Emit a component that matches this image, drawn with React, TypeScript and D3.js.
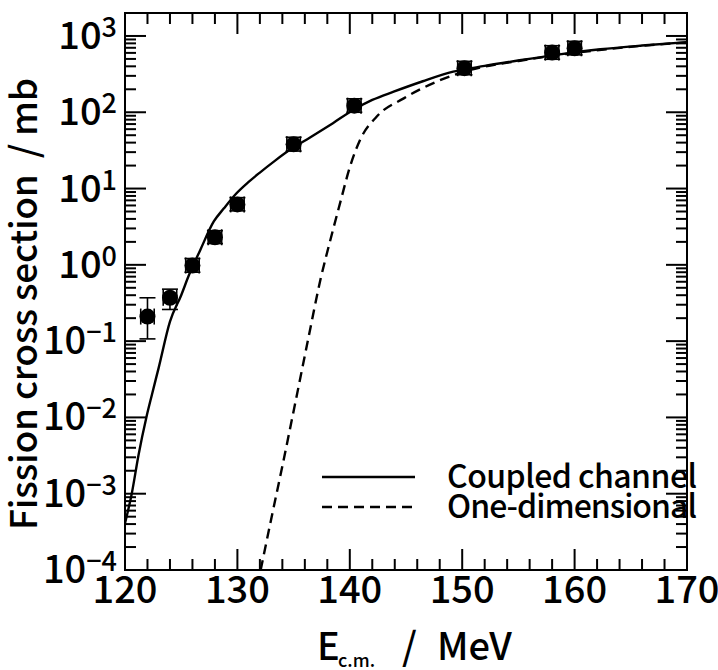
import React from "react";
import * as d3 from "d3";

// Experimental data (E_cm in MeV, sigma_fission in mb)
const expE = [122.0, 124.0, 126.0, 128.0, 130.0, 135.0, 140.4, 150.2, 158.0, 160.0];
const expSigma = [0.21, 0.37, 0.98, 2.3, 6.2, 38, 122, 378, 605, 690];
const expLo = [0.107, 0.26, 0.8, 1.9, 5.1, 31, 100, 310, 495, 565];
const expHi = [0.37, 0.48, 1.21, 2.8, 7.6, 47, 150, 465, 745, 850];
const expEErr = [0.6, 0.6, 0.6, 0.6, 0.6, 0.6, 0.6, 0.6, 0.6, 0.6];

// Coupled channel calculation
const ccE = [120, 120.6, 121.2, 121.9, 122.4, 123.0, 124.0, 125.0, 125.7, 126.7, 127.9, 128.8, 129.8, 131.0, 132.0, 133.3, 134.7, 136.5, 138.5, 140.3, 142.0, 143.9, 146.5, 149.2, 152.0, 155.1, 158.5, 162.3, 166.0, 170];
const ccSigma = [4.1e-4, 1.0e-3, 3.2e-3, 1.0e-2, 2.0e-2, 4.5e-2, 0.18, 0.4, 0.74, 1.57, 3.7, 5.5, 8.3, 12.2, 16.2, 22.9, 32.4, 47, 72, 107, 145, 186, 255, 340, 405, 480, 570, 670, 750, 830];

// One-dimensional calculation
const odE = [132.07, 133.0, 134.0, 135.27, 136.3, 137.4, 138.3, 139.2, 140.0, 140.9, 142.4, 144.8, 147.7, 150.7, 155.0, 160.0, 165.0, 170];
const odSigma = [1e-4, 4.6e-4, 2.3e-3, 0.019, 0.107, 0.65, 2.2, 7, 19, 43, 88, 152, 251, 358, 470, 600, 720, 825];

const xTickValues = [120, 130, 140, 150, 160, 170];
const yExponents = [-4, -3, -2, -1, 0, 1, 2, 3];
const legendLabels = ["Coupled channel", "One-dimensional"];

const W = 718;
const H = 670;
const M = { left: 125, right: 687, top: 13, bottom: 570 };
const FONT = "'Noto Sans CJK JP', 'Noto Sans', sans-serif";

export default function App() {
  const x = d3.scaleLinear().domain([120, 170]).range([M.left, M.right]);
  const y = d3.scaleLog().domain([1e-4, 2000]).range([M.bottom, M.top]);

  const line = d3
    .line<[number, number]>()
    .x((d) => x(d[0]))
    .y((d) => y(d[1]))
    .curve(d3.curveMonotoneX);

  const ccPath = line(ccE.map((e, i) => [e, ccSigma[i]] as [number, number])) || "";
  const odPath = line(odE.map((e, i) => [e, odSigma[i]] as [number, number])) || "";

  const xMinor = d3.range(120, 170.01, 2).filter((v) => v % 10 !== 0);
  const yMinor: number[] = [];
  for (let p = -4; p < 4; p++) {
    for (let k = 2; k <= 9; k++) {
      const v = k * Math.pow(10, p);
      if (v <= 2000) yMinor.push(v);
    }
  }

  const MAJ = 21;
  const MIN = 11;
  const sw = 2;
  const cap = 8;
  const supFmt = (e: number) => (e < 0 ? "\u2212" + Math.abs(e) : String(e));

  return (
    <svg
      width={W}
      height={H}
      style={{ position: "absolute", left: 0, top: 0, background: "#fff" }}
      fontFamily={FONT}
      fontWeight={500}
    >
      <defs>
        <clipPath id="plotclip">
          <rect x={M.left} y={M.top} width={M.right - M.left} height={M.bottom - M.top} />
        </clipPath>
      </defs>
      <rect x={0} y={0} width={W} height={H} fill="#fff" />

      {/* ticks */}
      <g stroke="#000" strokeWidth={sw}>
        {xTickValues.map((v) => (
          <g key={"xt" + v}>
            <line x1={x(v)} x2={x(v)} y1={M.bottom} y2={M.bottom - MAJ} />
            <line x1={x(v)} x2={x(v)} y1={M.top} y2={M.top + MAJ} />
          </g>
        ))}
        {xMinor.map((v) => (
          <g key={"xm" + v}>
            <line x1={x(v)} x2={x(v)} y1={M.bottom} y2={M.bottom - MIN} />
            <line x1={x(v)} x2={x(v)} y1={M.top} y2={M.top + MIN} />
          </g>
        ))}
        {yExponents.map((e) => {
          const yy = y(Math.pow(10, e));
          return (
            <g key={"yt" + e}>
              <line x1={M.left} x2={M.left + MAJ} y1={yy} y2={yy} />
              <line x1={M.right} x2={M.right - MAJ} y1={yy} y2={yy} />
            </g>
          );
        })}
        {yMinor.map((v, i) => (
          <g key={"ym" + i}>
            <line x1={M.left} x2={M.left + MIN} y1={y(v)} y2={y(v)} />
            <line x1={M.right} x2={M.right - MIN} y1={y(v)} y2={y(v)} />
          </g>
        ))}
      </g>

      {/* frame */}
      <rect
        x={M.left}
        y={M.top}
        width={M.right - M.left}
        height={M.bottom - M.top}
        fill="none"
        stroke="#000"
        strokeWidth={sw}
      />

      {/* tick labels */}
      <g fill="#000">
        {xTickValues.map((v) => (
          <text key={"xl" + v} x={x(v)} y={603} textAnchor="middle" fontSize={38}>
            {v}
          </text>
        ))}
        {yExponents.map((e) => (
          <text key={"yl" + e} x={117} y={y(Math.pow(10, e)) + 13} textAnchor="end" fontSize={38}>
            <tspan>10</tspan>
            <tspan dy={-12} fontSize={27}>
              {supFmt(e)}
            </tspan>
          </text>
        ))}
      </g>

      {/* curves */}
      <g clipPath="url(#plotclip)" fill="none" stroke="#000" strokeWidth={2.4}>
        <path d={ccPath} />
        <path d={odPath} strokeDasharray="10 6" />
      </g>

      {/* data points with error bars */}
      <g stroke="#000" strokeWidth={1.6}>
        {expE.map((e, i) => {
          const cx = x(e);
          const cy = y(expSigma[i]);
          const y1 = y(expHi[i]);
          const y2 = y(expLo[i]);
          const x1 = x(e - expEErr[i]);
          const x2 = x(e + expEErr[i]);
          return (
            <g key={"pt" + i}>
              <line x1={cx} x2={cx} y1={y1} y2={y2} />
              <line x1={cx - cap} x2={cx + cap} y1={y1} y2={y1} />
              <line x1={cx - cap} x2={cx + cap} y1={y2} y2={y2} />
              <line x1={x1} x2={x2} y1={cy} y2={cy} />
              <line x1={x1} x2={x1} y1={cy - cap} y2={cy + cap} />
              <line x1={x2} x2={x2} y1={cy - cap} y2={cy + cap} />
              <circle cx={cx} cy={cy} r={8} fill="#000" stroke="none" />
            </g>
          );
        })}
      </g>

      {/* legend */}
      <g fontSize={32} fill="#000">
        <line x1={322} x2={415} y1={477} y2={477} stroke="#000" strokeWidth={2.4} />
        <text x={447} y={488} textLength={250} lengthAdjust="spacing">
          {legendLabels[0]}
        </text>
        <line x1={322} x2={415} y1={507} y2={507} stroke="#000" strokeWidth={2.4} strokeDasharray="10 6" />
        <text x={447} y={518} textLength={250} lengthAdjust="spacing">
          {legendLabels[1]}
        </text>
      </g>

      {/* axis titles */}
      <g fill="#000">
        <text x={317} y={660} fontSize={38}>E</text>
        <text x={338} y={667} fontSize={18}>c.m.</text>
        <text x={402} y={660} fontSize={38}>/</text>
        <text x={437} y={660} fontSize={38}>MeV</text>
      </g>
      <text
        transform={`translate(37, 304) rotate(-90)`}
        fontSize={37}
        textAnchor="middle"
        fill="#000"
        textLength={452}
        lengthAdjust="spacing"
        style={{ whiteSpace: "pre" }}
      >
        {"Fission cross section  / mb"}
      </text>
    </svg>
  );
}
